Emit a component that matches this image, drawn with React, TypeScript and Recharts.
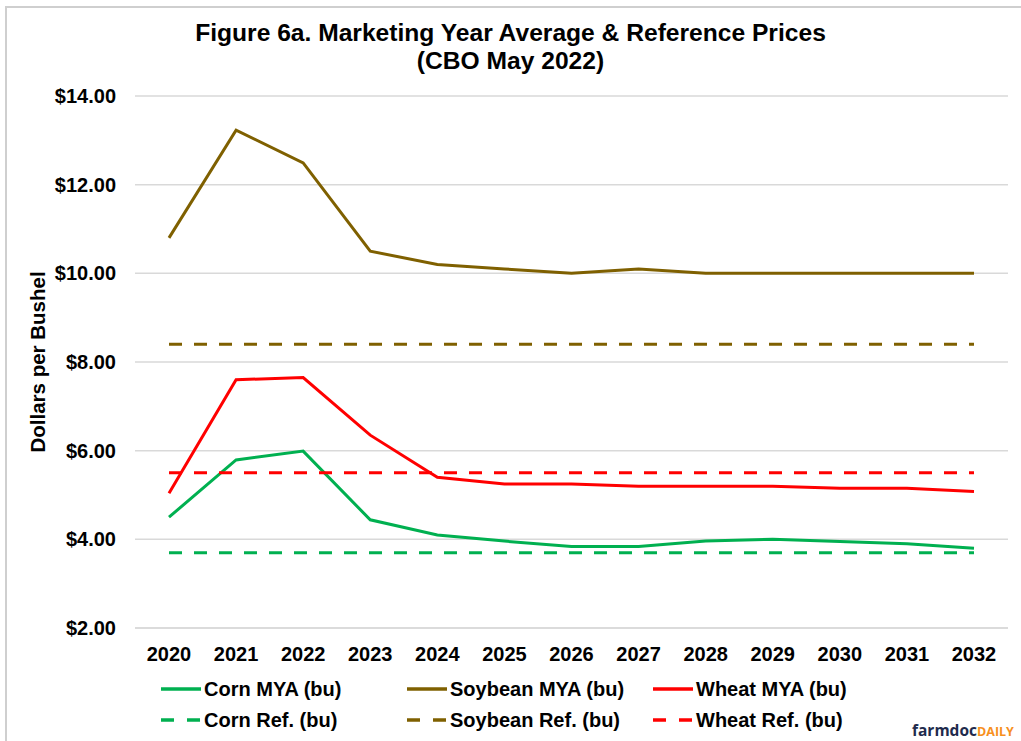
import React from 'react';
import { CartesianGrid, Line, LineChart, XAxis, YAxis } from 'recharts';

const years = ['2020', '2021', '2022', '2023', '2024', '2025', '2026', '2027', '2028', '2029', '2030', '2031', '2032'];
const cornMya = [4.5, 5.79, 5.99, 4.44, 4.1, 3.96, 3.84, 3.84, 3.96, 4.0, 3.95, 3.9, 3.8];
const soybeanMya = [10.8, 13.23, 12.49, 10.5, 10.2, 10.1, 10.0, 10.1, 10.0, 10.0, 10.0, 10.0, 10.0];
const wheatMya = [5.04, 7.6, 7.65, 6.35, 5.4, 5.25, 5.25, 5.2, 5.2, 5.2, 5.15, 5.15, 5.08];
const cornRef = [3.7, 3.7, 3.7, 3.7, 3.7, 3.7, 3.7, 3.7, 3.7, 3.7, 3.7, 3.7, 3.7];
const soybeanRef = [8.4, 8.4, 8.4, 8.4, 8.4, 8.4, 8.4, 8.4, 8.4, 8.4, 8.4, 8.4, 8.4];
const wheatRef = [5.5, 5.5, 5.5, 5.5, 5.5, 5.5, 5.5, 5.5, 5.5, 5.5, 5.5, 5.5, 5.5];
const yTicks = [2, 4, 6, 8, 10, 12, 14];

const data = years.map((year, i) => ({
  year,
  cornMya: cornMya[i],
  soybeanMya: soybeanMya[i],
  wheatMya: wheatMya[i],
  cornRef: cornRef[i],
  soybeanRef: soybeanRef[i],
  wheatRef: wheatRef[i],
}));

const CORN = '#00b050';
const SOY = '#7f6000';
const WHEAT = '#ff0000';
const DASH = '13 12';
const FONT = '"Liberation Sans", Arial, sans-serif';

const legendItems = [
  { label: 'Corn MYA (bu)', color: CORN, dashed: false, x: 160, y: 689 },
  { label: 'Soybean MYA (bu)', color: SOY, dashed: false, x: 406, y: 689 },
  { label: 'Wheat MYA (bu)', color: WHEAT, dashed: false, x: 652, y: 689 },
  { label: 'Corn Ref. (bu)', color: CORN, dashed: true, x: 160, y: 720 },
  { label: 'Soybean Ref. (bu)', color: SOY, dashed: true, x: 406, y: 720 },
  { label: 'Wheat Ref. (bu)', color: WHEAT, dashed: true, x: 652, y: 720 },
];

export default function App() {
  return (
    <div
      style={{
        position: 'absolute',
        left: 0,
        top: 0,
        width: 1021,
        height: 741,
        overflow: 'hidden',
        background: '#fff',
        fontFamily: FONT,
      }}
    >
      <div
        style={{
          position: 'absolute',
          left: 5,
          top: 6,
          width: 1100,
          height: 800,
          borderLeft: '2px solid #cfcfcf',
          borderTop: '2px solid #cfcfcf',
        }}
      />
      <div
        style={{
          position: 'absolute',
          left: 0,
          top: 19,
          width: 1021,
          textAlign: 'center',
          fontWeight: 'bold',
          fontSize: 24.6,
          lineHeight: '28px',
          color: '#000',
        }}
      >
        Figure 6a. Marketing Year Average &amp; Reference Prices
        <br />
        (CBO May 2022)
      </div>
      <div style={{ position: 'absolute', left: 0, top: 0 }}>
        <LineChart width={1021} height={741} data={data} margin={{ top: 96, right: 13, bottom: 83, left: 0 }}>
          <CartesianGrid vertical={false} stroke="#d9d9d9" strokeWidth={1.5} />
          <XAxis
            dataKey="year"
            height={30}
            padding={{ left: 34, right: 34 }}
            axisLine={{ stroke: '#d9d9d9', strokeWidth: 1.5 }}
            tickLine={false}
            tickSize={0}
            tickMargin={19}
            tick={{ fill: '#000', fontSize: 20, fontWeight: 'bold', fontFamily: FONT }}
            interval={0}
          />
          <YAxis
            width={135}
            domain={[2, 14]}
            ticks={yTicks}
            axisLine={false}
            tickLine={false}
            tickSize={0}
            tickMargin={19}
            tickFormatter={(v: number) => `$${v.toFixed(2)}`}
            tick={{ fill: '#000', fontSize: 20, fontWeight: 'bold', fontFamily: FONT }}
            label={{
              value: 'Dollars per Bushel',
              angle: -90,
              position: 'center',
              dx: -30,
              style: { fill: '#000', fontSize: 20.5, fontWeight: 'bold', fontFamily: FONT },
            }}
          />
          <Line dataKey="cornMya" stroke={CORN} strokeWidth={3} dot={false} isAnimationActive={false} />
          <Line dataKey="soybeanMya" stroke={SOY} strokeWidth={3} dot={false} isAnimationActive={false} />
          <Line dataKey="wheatMya" stroke={WHEAT} strokeWidth={3} dot={false} isAnimationActive={false} />
          <Line dataKey="cornRef" stroke={CORN} strokeWidth={3} strokeDasharray={DASH} dot={false} isAnimationActive={false} />
          <Line dataKey="soybeanRef" stroke={SOY} strokeWidth={3} strokeDasharray={DASH} dot={false} isAnimationActive={false} />
          <Line dataKey="wheatRef" stroke={WHEAT} strokeWidth={3} strokeDasharray={DASH} dot={false} isAnimationActive={false} />
        </LineChart>
      </div>
      {legendItems.map((item) => (
        <div
          key={item.label}
          style={{
            position: 'absolute',
            left: item.x,
            top: item.y - 12,
            height: 24,
            display: 'flex',
            alignItems: 'center',
            whiteSpace: 'nowrap',
          }}
        >
          <svg width={42} height={6} style={{ marginRight: 2 }}>
            <line
              x1={1}
              y1={3}
              x2={41}
              y2={3}
              stroke={item.color}
              strokeWidth={3.5}
              strokeDasharray={item.dashed ? '13 13' : undefined}
            />
          </svg>
          <span style={{ fontSize: 20, fontWeight: 'bold', color: '#000' }}>{item.label}</span>
        </div>
      ))}
      <div
        style={{
          position: 'absolute',
          left: 912,
          top: 719,
          whiteSpace: 'nowrap',
          fontWeight: 'bold',
          fontFamily: '"Open Sans", "DejaVu Sans", sans-serif',
        }}
      >
        <span style={{ fontSize: 15.5, color: '#1f2b4d' }}>farmdoc</span>
        <span style={{ fontSize: 12.5, color: '#f7901e' }}>DAILY</span>
      </div>
    </div>
  );
}
